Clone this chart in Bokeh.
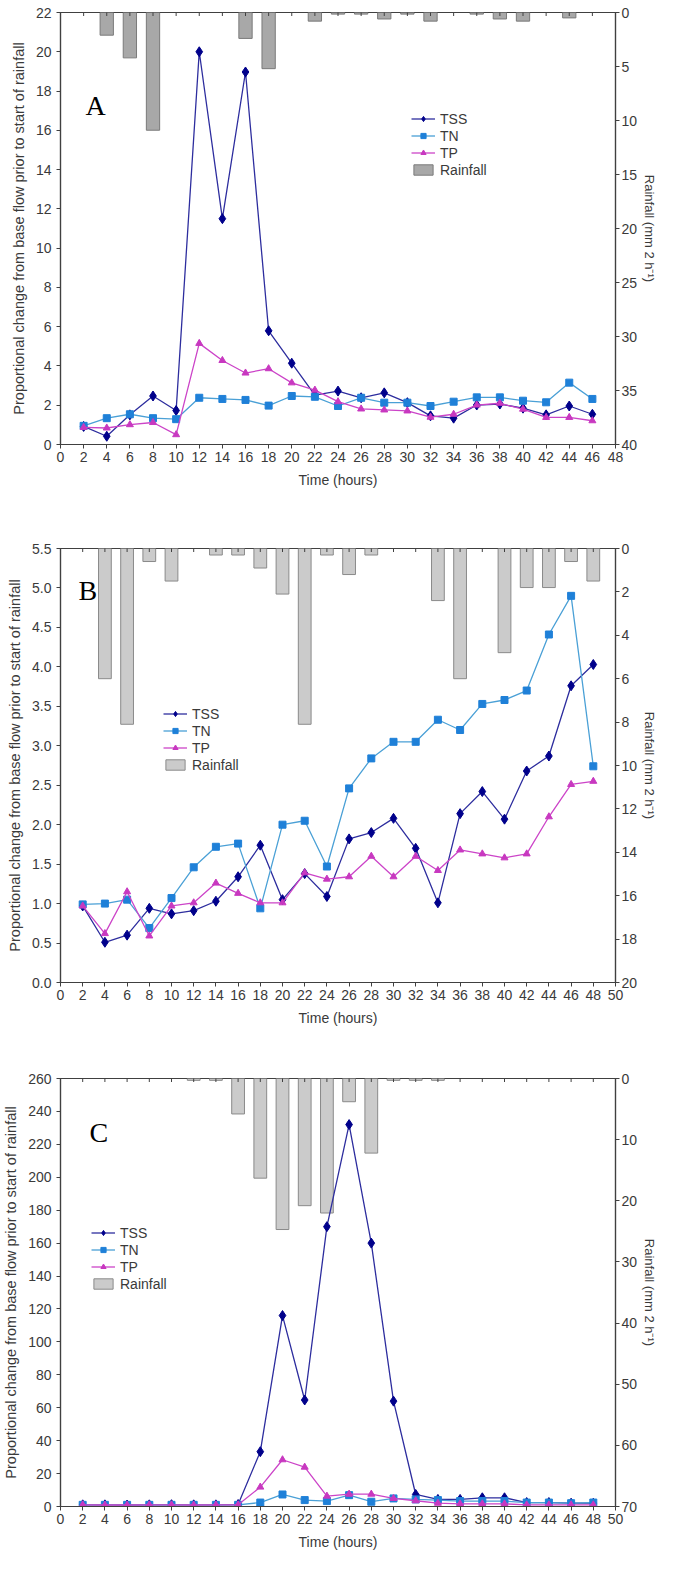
import math

from bokeh.embed import file_html
from bokeh.layouts import column
from bokeh.models import (FixedTicker, Label, Legend, LegendItem, LinearAxis,
                          PrintfTickFormatter, Range1d)
from bokeh.plotting import figure
from bokeh.resources import INLINE

# ---- panel A ----
hours_a = [2, 4, 6, 8, 10, 12, 14, 16, 18, 20, 22, 24, 26, 28, 30, 32, 34, 36, 38, 40, 42, 44, 46]
tss_a = [0.92, 0.42, 1.51, 2.47, 1.73, 20.0, 11.5, 18.97, 5.79, 4.14, 2.52, 2.72, 2.38, 2.63,
         2.13, 1.46, 1.34, 2.01, 2.06, 1.85, 1.51, 1.96, 1.54]
tn_a = [0.95, 1.34, 1.54, 1.34, 1.29, 2.38, 2.32, 2.27, 1.98, 2.47, 2.43, 1.96, 2.38, 2.13,
        2.13, 1.96, 2.18, 2.40, 2.40, 2.23, 2.15, 3.15, 2.32]
tp_a = [0.87, 0.84, 1.01, 1.12, 0.50, 5.15, 4.28, 3.64, 3.86, 3.14, 2.77, 2.18, 1.81, 1.76,
        1.71, 1.39, 1.54, 2.01, 2.10, 1.80, 1.38, 1.38, 1.21]
rain_hours_a = [4, 6, 8, 16, 18, 22, 24, 26, 28, 30, 32, 36, 38, 40, 44]
rain_a = [2.1, 4.2, 10.9, 2.4, 5.2, 0.8, 0.15, 0.15, 0.6, 0.15, 0.8, 0.15, 0.6, 0.8, 0.5]

# ---- panel B ----
hours_b = [2, 4, 6, 8, 10, 12, 14, 16, 18, 20, 22, 24, 26, 28, 30, 32, 34, 36, 38, 40, 42, 44, 46, 48]
tss_b = [0.97, 0.51, 0.60, 0.94, 0.87, 0.91, 1.03, 1.34, 1.74, 1.05, 1.38, 1.09, 1.82, 1.90,
         2.08, 1.70, 1.01, 2.14, 2.42, 2.07, 2.68, 2.87, 3.76, 4.03]
tn_b = [0.99, 1.00, 1.05, 0.69, 1.07, 1.46, 1.72, 1.76, 0.94, 2.00, 2.05, 1.47, 2.46, 2.84,
        3.05, 3.05, 3.33, 3.20, 3.53, 3.58, 3.70, 4.41, 4.90, 2.74]
tp_b = [0.97, 0.62, 1.15, 0.59, 0.97, 1.01, 1.26, 1.13, 1.01, 1.01, 1.39, 1.31, 1.34, 1.60,
        1.34, 1.60, 1.42, 1.68, 1.63, 1.58, 1.63, 2.10, 2.51, 2.55]
rain_hours_b = [4, 6, 8, 10, 14, 16, 18, 20, 22, 24, 26, 28, 34, 36, 40, 42, 44, 46, 48]
rain_b = [6.0, 8.1, 0.6, 1.5, 0.3, 0.3, 0.9, 2.1, 8.1, 0.3, 1.2, 0.3, 2.4, 6.0, 4.8, 1.8, 1.8, 0.6, 1.5]

# ---- panel C ----
hours_c = hours_b
tss_c = [1.0, 1.0, 0.9, 1.0, 1.1, 1.0, 1.0, 1.2, 33.3, 116.0, 64.7, 170.0, 232.0, 160.0,
         64.0, 7.3, 4.3, 4.3, 5.3, 5.3, 2.4, 2.4, 2.0, 2.0]
tn_c = [1.0, 1.0, 1.0, 1.0, 1.0, 1.0, 1.0, 1.0, 2.4, 7.3, 3.9, 3.3, 6.9, 2.9,
        4.9, 4.3, 3.9, 3.3, 3.3, 3.3, 2.4, 2.4, 2.0, 2.4]
tp_c = [1.0, 0.9, 0.9, 1.0, 1.0, 0.9, 1.0, 1.0, 11.8, 28.4, 23.9, 6.3, 7.5, 7.5,
        4.9, 3.5, 2.0, 1.6, 1.6, 1.6, 1.0, 1.0, 1.0, 1.0]
rain_hours_c = [12, 14, 16, 18, 20, 22, 24, 26, 28, 30, 32, 34]
rain_c = [0.3, 0.3, 5.8, 16.3, 24.7, 20.8, 22.0, 3.8, 12.2, 0.3, 0.3, 0.3]

FONT = "Liberation Sans"
TXT = "#3a3a3a"
AX = "#404040"


def style_axis(ax, title_size):
    ax.axis_line_color = AX
    ax.axis_line_width = 1.2
    ax.major_tick_line_color = AX
    ax.major_tick_out = 4
    ax.major_tick_in = 0
    ax.minor_tick_line_color = None
    ax.minor_tick_out = 0
    ax.major_label_text_font = FONT
    ax.major_label_text_font_size = "14px"
    ax.major_label_text_color = TXT
    ax.axis_label_text_font = FONT
    ax.axis_label_text_font_size = title_size
    ax.axis_label_text_font_style = "normal"
    ax.axis_label_text_color = TXT


def panel(letter, hours, tss, tn, tp, rain_hours, rain, x_end, y_ticks, y_fmt, rain_ticks,
          bar_fill, bar_line, size, borders, legend_xy, letter_xy):
    left, right, top, bottom = borders
    p = figure(width=size[0], height=size[1],
               x_range=Range1d(0, x_end), y_range=Range1d(0, y_ticks[-1]),
               min_border_left=left, min_border_right=right,
               min_border_top=top, min_border_bottom=bottom,
               output_backend="svg", toolbar_location=None)
    p.grid.grid_line_color = None
    p.outline_line_color = AX
    p.outline_line_width = 1.2

    p.extra_y_ranges = {"rain": Range1d(rain_ticks[-1], 0)}
    rax = LinearAxis(y_range_name="rain", axis_label="Rainfall (mm 2 h\u207b\u00b9)",
                     ticker=FixedTicker(ticks=rain_ticks))
    p.add_layout(rax, "right")

    x_ticks = list(range(0, x_end + 1, 2))
    p.xaxis[0].ticker = FixedTicker(ticks=x_ticks)
    p.xaxis[0].axis_label = "Time (hours)"
    p.yaxis[0].ticker = FixedTicker(ticks=y_ticks)
    p.yaxis[0].axis_label = "Proportional change from base flow prior to start of rainfall"
    if y_fmt:
        p.yaxis[0].formatter = PrintfTickFormatter(format=y_fmt)
    style_axis(p.xaxis[0], "14px")
    style_axis(p.yaxis[0], "14.5px")
    style_axis(rax, "13px")
    p.xaxis[0].major_label_standoff = 3
    p.xaxis[0].axis_label_standoff = 7
    p.yaxis[0].axis_label_standoff = 6
    rax.major_label_standoff = 2
    rax.axis_label_standoff = 2

    bars = p.vbar(x=rain_hours, width=1.15, top=0, bottom=rain, y_range_name="rain",
                  fill_color=bar_fill, line_color=bar_line, line_width=1)

    # little inward ticks along the top edge (vertical dashes, half clipped by the frame)
    p.scatter(x=x_ticks, y=[y_ticks[-1]] * len(x_ticks), marker="dash", angle=math.pi / 2,
              size=7, line_color=AX, line_width=1)

    l1 = p.line(hours, tss, line_color="#2d2d9e", line_width=1.3)
    m1 = p.scatter(hours, tss, marker="diamond", size=10, fill_color="#00008b", line_color="#00008b")
    l2 = p.line(hours, tn, line_color="#4aa0d6", line_width=1.3)
    m2 = p.scatter(hours, tn, marker="square", size=7, fill_color="#1f80d8", line_color="#1f80d8")
    l3 = p.line(hours, tp, line_color="#cc44c8", line_width=1.3)
    m3 = p.scatter(hours, tp, marker="triangle", size=7, fill_color="#c838c0", line_color="#c838c0")

    legend = Legend(items=[
        LegendItem(label="TSS", renderers=[l1, m1]),
        LegendItem(label="TN", renderers=[l2, m2]),
        LegendItem(label="TP", renderers=[l3, m3]),
        LegendItem(label="Rainfall", renderers=[bars]),
    ], location=legend_xy)
    legend.background_fill_alpha = 0
    legend.border_line_color = None
    legend.padding = 0
    legend.margin = 0
    legend.spacing = 0
    legend.glyph_width = 24
    legend.glyph_height = 13
    legend.label_height = 17
    legend.label_standoff = 5
    legend.label_text_font = FONT
    legend.label_text_font_size = "14px"
    legend.label_text_color = TXT
    p.add_layout(legend, "center")

    p.add_layout(Label(x=letter_xy[0], y=letter_xy[1], x_units="screen", y_units="screen",
                       text=letter, text_font="Liberation Serif",
                       text_font_size="28px", text_color="#000000",
                       text_baseline="alphabetic"))
    return p


# sizes: (width, height); borders: (left, right, top, bottom)
pa = panel("A", hours_a, tss_a, tn_a, tp_a, rain_hours_a, rain_a, 48,
           list(range(0, 23, 2)), None, list(range(0, 41, 5)),
           "#a8a8a8", "#7a7a7a", (660, 514), (54, 41, 12, 70), (351, 266), (25, 339))
pb = panel("B", hours_b, tss_b, tn_b, tp_b, rain_hours_b, rain_b, 50,
           [i * 0.5 for i in range(12)], "%.1f", list(range(0, 21, 2)),
           "#cbcbcb", "#8a8a8a", (660, 530), (57, 41, 34, 62), (103, 209), (18, 392))
pc = panel("C", hours_c, tss_c, tn_c, tp_c, rain_hours_c, rain_c, 50,
           list(range(0, 261, 20)), None, list(range(0, 71, 10)),
           "#cbcbcb", "#8a8a8a", (660, 508), (59, 41, 34, 46), (31, 214), (29, 374))

page = column(pa, pb, pc, spacing=0)
open("out.html", "w").write(file_html(page, INLINE))
